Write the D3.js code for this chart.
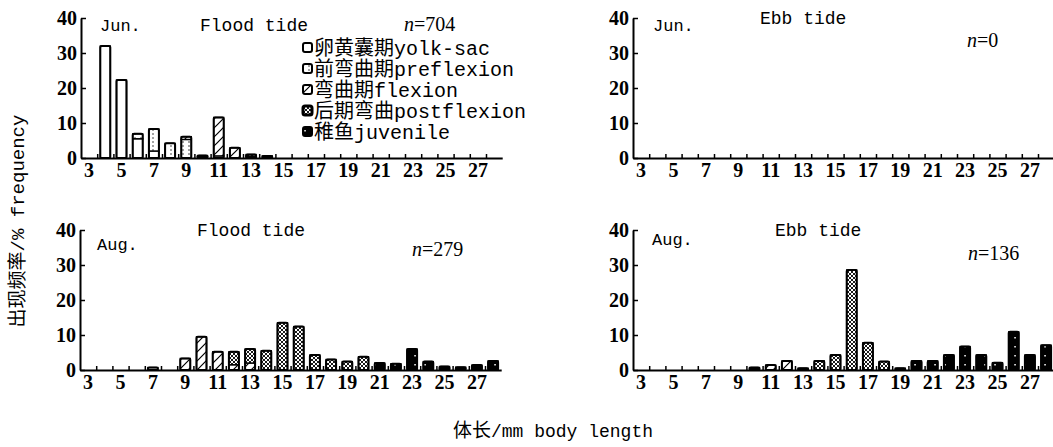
<!DOCTYPE html>
<html>
<head>
<meta charset="utf-8">
<script src="https://cdn.jsdelivr.net/npm/d3@7"></script>
<style>
  body { margin: 0; background: #fff; }
  svg { display: block; }
</style>
</head>
<body>
<svg id="chart" width="1053" height="447"></svg>
<script>
// body length classes (mm), one bar per class
const lengths = [3, 4, 5, 6, 7, 8, 9, 10, 11, 12, 13, 14, 15, 16, 17, 18, 19, 20, 21, 22, 23, 24, 25, 26, 27, 28]
const xLabels = [3, 5, 7, 9, 11, 13, 15, 17, 19, 21, 23, 25, 27]
const yTicks = [0, 10, 20, 30, 40]

const stages = ['yolk', 'pre', 'flex', 'post', 'juv']
const stageNames = [
  ['卵黄囊期', 'yolk-sac'],
  ['前弯曲期', 'preflexion'],
  ['弯曲期', 'flexion'],
  ['后期弯曲', 'postflexion'],
  ['稚鱼', 'juvenile']
]

// % frequency, index follows lengths
const junFloodYolk = [0, 32, 22.3, 5.5, 2, 0, 0, 0, 0, 0, 0, 0, 0, 0, 0, 0, 0, 0, 0, 0, 0, 0, 0, 0, 0, 0]
const junFloodPre  = [0, 0, 0, 1.4, 6.3, 4.2, 5.3, 0.4, 0.6, 0, 0, 0, 0, 0, 0, 0, 0, 0, 0, 0, 0, 0, 0, 0, 0, 0]
const junFloodFlex = [0, 0, 0, 0, 0, 0, 0.8, 0.3, 11, 2.9, 0.5, 0, 0, 0, 0, 0, 0, 0, 0, 0, 0, 0, 0, 0, 0, 0]
const junFloodPost = [0, 0, 0, 0, 0, 0, 0, 0, 0, 0, 0.5, 0.6, 0, 0, 0, 0, 0, 0, 0, 0, 0, 0, 0, 0, 0, 0]
const junFloodJuv  = [0, 0, 0, 0, 0, 0, 0, 0, 0, 0, 0, 0, 0, 0, 0, 0, 0, 0, 0, 0, 0, 0, 0, 0, 0, 0]

const junEbbYolk = [0, 0, 0, 0, 0, 0, 0, 0, 0, 0, 0, 0, 0, 0, 0, 0, 0, 0, 0, 0, 0, 0, 0, 0, 0, 0]
const junEbbPre  = [0, 0, 0, 0, 0, 0, 0, 0, 0, 0, 0, 0, 0, 0, 0, 0, 0, 0, 0, 0, 0, 0, 0, 0, 0, 0]
const junEbbFlex = [0, 0, 0, 0, 0, 0, 0, 0, 0, 0, 0, 0, 0, 0, 0, 0, 0, 0, 0, 0, 0, 0, 0, 0, 0, 0]
const junEbbPost = [0, 0, 0, 0, 0, 0, 0, 0, 0, 0, 0, 0, 0, 0, 0, 0, 0, 0, 0, 0, 0, 0, 0, 0, 0, 0]
const junEbbJuv  = [0, 0, 0, 0, 0, 0, 0, 0, 0, 0, 0, 0, 0, 0, 0, 0, 0, 0, 0, 0, 0, 0, 0, 0, 0, 0]

const augFloodYolk = [0, 0, 0, 0, 0.7, 0, 0, 0, 0, 0, 0, 0, 0, 0, 0, 0, 0, 0, 0, 0, 0, 0, 0, 0, 0, 0]
const augFloodPre  = [0, 0, 0, 0, 0, 0, 0, 0, 0, 0, 0, 0, 0, 0, 0, 0, 0, 0, 0, 0, 0, 0, 0, 0, 0, 0]
const augFloodFlex = [0, 0, 0, 0, 0, 0, 3.3, 9.5, 5.2, 1.5, 2, 0, 0, 0, 0, 0, 0, 0, 0, 0, 0, 0, 0, 0, 0, 0]
const augFloodPost = [0, 0, 0, 0, 0, 0, 0, 0, 0, 3.7, 4, 5.5, 13.5, 12.4, 4.3, 3, 2.4, 3.8, 0, 0, 0, 0, 0, 0, 0, 0]
const augFloodJuv  = [0, 0, 0, 0, 0, 0, 0, 0, 0, 0, 0, 0, 0, 0, 0, 0, 0, 0, 2, 1.8, 6, 2.4, 1, 0.8, 1.4, 2.6]

const augEbbYolk = [0, 0, 0, 0, 0, 0, 0, 0, 0, 0, 0, 0, 0, 0, 0, 0, 0, 0, 0, 0, 0, 0, 0, 0, 0, 0]
const augEbbPre  = [0, 0, 0, 0, 0, 0, 0, 0, 0, 0, 0, 0, 0, 0, 0, 0, 0, 0, 0, 0, 0, 0, 0, 0, 0, 0]
const augEbbFlex = [0, 0, 0, 0, 0, 0, 0, 0, 1.4, 2.6, 0, 0, 0, 0, 0, 0, 0, 0, 0, 0, 0, 0, 0, 0, 0, 0]
const augEbbPost = [0, 0, 0, 0, 0, 0, 0, 0, 0, 0, 0, 2.6, 4.3, 28.6, 7.8, 2.4, 0, 0, 0, 0, 0, 0, 0, 0, 0, 0]
const augEbbJuv  = [0, 0, 0, 0, 0, 0, 0, 0.7, 0, 0, 0.5, 0, 0, 0, 0, 0, 0.5, 2.6, 2.6, 4.3, 6.7, 4.3, 2.1, 10.9, 4.3, 7.1]

const panels = [
  { left: 81, base: 158, month: 'Jun.', tide: 'Flood tide', n: '704',
    monthPos: [100, 31], tidePos: [200, 31], nPos: [404, 31], legend: true,
    series: [junFloodYolk, junFloodPre, junFloodFlex, junFloodPost, junFloodJuv] },
  { left: 633, base: 158, month: 'Jun.', tide: 'Ebb tide', n: '0',
    monthPos: [653, 31], tidePos: [760, 24], nPos: [967, 47],
    series: [junEbbYolk, junEbbPre, junEbbFlex, junEbbPost, junEbbJuv] },
  { left: 80, base: 370, month: 'Aug.', tide: 'Flood tide', n: '279',
    monthPos: [97, 250], tidePos: [197, 236], nPos: [412, 256],
    series: [augFloodYolk, augFloodPre, augFloodFlex, augFloodPost, augFloodJuv] },
  { left: 633, base: 370, month: 'Aug.', tide: 'Ebb tide', n: '136',
    monthPos: [652, 245], tidePos: [775, 236], nPos: [968, 260],
    series: [augEbbYolk, augEbbPre, augEbbFlex, augEbbPost, augEbbJuv] }
]

const plotH = 140
const bandW = 16.2
const mono = '"Liberation Mono", "DejaVu Sans Mono", monospace'
const serif = '"Liberation Serif", "DejaVu Serif", serif'
const cjk = '"Noto Sans CJK SC", sans-serif'
const fills = { yolk: '#fff', pre: 'url(#pre)', flex: 'url(#flex)', post: 'url(#post)', juv: 'url(#juv)' }

const svg = d3.select('#chart')
const defs = svg.append('defs')

// fill patterns for the five stages
const pPre = defs.append('pattern').attr('id', 'pre').attr('patternUnits', 'userSpaceOnUse')
  .attr('width', 6).attr('height', 4)
pPre.append('rect').attr('width', 6).attr('height', 4).attr('fill', '#fff')
pPre.append('rect').attr('x', 2.4).attr('y', 1.4).attr('width', 1.2).attr('height', 1.2).attr('fill', '#000')

const pFlex = defs.append('pattern').attr('id', 'flex').attr('patternUnits', 'userSpaceOnUse')
  .attr('width', 9).attr('height', 9)
pFlex.append('rect').attr('width', 9).attr('height', 9).attr('fill', '#fff')
pFlex.append('path').attr('d', 'M0,9L9,0M-1,1L1,-1M8,10L10,8').attr('stroke', '#000').attr('stroke-width', 1.2)

const pPost = defs.append('pattern').attr('id', 'post').attr('patternUnits', 'userSpaceOnUse')
  .attr('width', 4).attr('height', 4)
pPost.append('rect').attr('width', 4).attr('height', 4).attr('fill', '#fff')
pPost.append('path').attr('d', 'M0,0L4,4M4,0L0,4').attr('stroke', '#000').attr('stroke-width', 0.9)

const pJuv = defs.append('pattern').attr('id', 'juv').attr('patternUnits', 'userSpaceOnUse')
  .attr('width', 10).attr('height', 9)
pJuv.append('rect').attr('width', 10).attr('height', 9).attr('fill', '#000')
pJuv.append('rect').attr('x', 4.3).attr('y', 4).attr('width', 1.5).attr('height', 1.5).attr('fill', '#fff')

function drawPanel(p) {
  const g = svg.append('g')
  const x = d3.scaleBand().domain(lengths).range([p.left, p.left + bandW * lengths.length]).padding(0)
  const xLin = d3.scaleLinear().domain([lengths[0] - 0.5, lengths[lengths.length - 1] + 0.5])
    .range([p.left, p.left + bandW * lengths.length])
  const y = d3.scaleLinear().domain([0, 40]).range([p.base, p.base - plotH])

  const rows = lengths.map((len, i) => {
    const row = { len }
    stages.forEach((s, k) => { row[s] = p.series[k][i] })
    return row
  })
  const stacked = d3.stack().keys(stages)(rows)
  const bw = 10
  const off = (x.bandwidth() - bw) / 2

  stacked.forEach(layer => {
    g.append('g').selectAll('rect')
      .data(layer.filter(d => d[1] - d[0] > 0))
      .enter().append('rect')
      .attr('x', d => x(d.data.len) + off)
      .attr('width', bw)
      .attr('y', d => y(d[1]))
      .attr('height', d => y(d[0]) - y(d[1]))
      .attr('fill', fills[layer.key])
      .attr('stroke', '#000')
      .attr('stroke-width', 1.4)
  })

  // outer outline of each bar
  const totals = rows.map(r => ({ len: r.len, total: d3.sum(stages, s => r[s]) })).filter(d => d.total > 0)
  g.append('g').selectAll('rect').data(totals)
    .enter().append('rect')
    .attr('x', d => x(d.len) + off)
    .attr('width', bw)
    .attr('y', d => y(d.total))
    .attr('height', d => y(0) - y(d.total))
    .attr('rx', 1.5)
    .attr('fill', 'none')
    .attr('stroke', '#000')
    .attr('stroke-width', 2)

  // y axis, ticks inside
  const ya = g.append('g').attr('transform', `translate(${p.left},0)`)
    .call(d3.axisLeft(y).tickValues(yTicks).tickSizeInner(-5).tickSizeOuter(0).tickPadding(4))
  ya.select('.domain').attr('stroke-width', 2)
  ya.selectAll('.tick line').attr('stroke-width', 1.5)
  ya.selectAll('text').attr('font-family', serif).attr('font-size', 20).attr('font-weight', 'bold').attr('fill', '#000')

  // x axis: small ticks between classes
  const xt = g.append('g').attr('transform', `translate(0,${p.base})`)
    .call(d3.axisBottom(xLin).tickValues(lengths.slice(1).map(d => d - 0.5)).tickSizeInner(-4).tickSizeOuter(0).tickFormat(''))
  xt.select('.domain').attr('stroke-width', 2)
  xt.selectAll('.tick line').attr('stroke-width', 1.5)

  const xl = g.append('g').attr('transform', `translate(0,${p.base})`)
    .call(d3.axisBottom(x).tickValues(xLabels).tickSize(0).tickPadding(5))
  xl.select('.domain').remove()
  xl.selectAll('text').attr('font-family', serif).attr('font-size', 20).attr('font-weight', 'bold').attr('fill', '#000')

  g.append('text').attr('x', p.monthPos[0]).attr('y', p.monthPos[1])
    .attr('font-family', mono).attr('font-size', 17).text(p.month)
  g.append('text').attr('x', p.tidePos[0]).attr('y', p.tidePos[1])
    .attr('font-family', mono).attr('font-size', 18).text(p.tide)
  const nt = g.append('text').attr('x', p.nPos[0]).attr('y', p.nPos[1])
    .attr('font-family', serif).attr('font-size', 20)
  nt.append('tspan').attr('font-style', 'italic').text('n')
  nt.append('tspan').text('=' + p.n)

  if (p.legend) {
    const lg = g.append('g')
    stageNames.forEach((nm, i) => {
      const cy = 48 + i * 21
      lg.append('rect').attr('x', 303).attr('y', cy - 5).attr('width', 9).attr('height', 9)
        .attr('rx', 2).attr('fill', fills[stages[i]]).attr('stroke', '#000').attr('stroke-width', i === 3 ? 3 : 2)
      const t = lg.append('text').attr('x', 314).attr('y', cy + 7)
      t.append('tspan').attr('font-family', cjk).attr('font-size', 20).text(nm[0])
      t.append('tspan').attr('font-family', mono).attr('font-size', 20).text(nm[1])
    })
  }
}

panels.forEach(drawPanel)

// shared axis titles
const yt = svg.append('text').attr('transform', 'translate(24,221) rotate(-90)').attr('text-anchor', 'middle')
yt.append('tspan').attr('font-family', cjk).attr('font-size', 19).text('出现频率')
yt.append('tspan').attr('font-family', mono).attr('font-size', 19).text('/% frequency')

const xt = svg.append('text').attr('x', 553).attr('y', 437).attr('text-anchor', 'middle')
xt.append('tspan').attr('font-family', cjk).attr('font-size', 19).text('体长')
xt.append('tspan').attr('font-family', mono).attr('font-size', 18).text('/mm body length')
</script>
</body>
</html>
